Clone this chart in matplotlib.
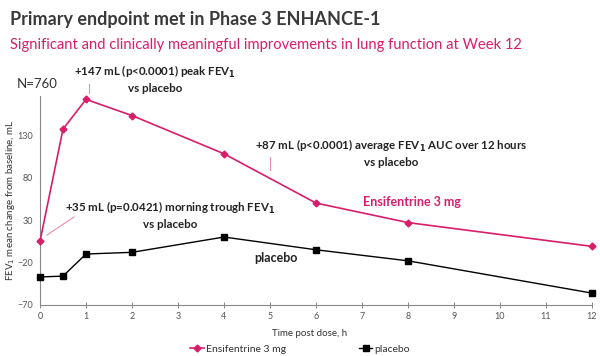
import matplotlib.pyplot as plt
from matplotlib.lines import Line2D

plt.rcParams['font.family'] = ['Lato', 'DejaVu Sans']

# data
hours = [0, 0.5, 1, 2, 4, 6, 8, 12]
ensifentrine = [5, 137, 172, 153, 108, 50, 27, -1]
placebo = [-37, -36, -10, -8, 10, -5, -18, -56]
y_ticks = [-70, -20, 30, 80, 130]
x_ticks = list(range(0, 13))

PINK = '#D81E6A'
LIGHT_PINK = '#E98DB0'
W, H = 600, 356


def fx(px):
    return px / W


def fy(py):
    return 1 - py / H


fig = plt.figure(figsize=(6, 3.56), dpi=100)
ax = fig.add_axes([fx(40), fy(305), fx(592) - fx(40), fy(96) - fy(305)])

ax.plot(hours, ensifentrine, color=PINK, marker='D', markersize=3.5, lw=1.2,
        label='Ensifentrine 3 mg', clip_on=False, zorder=3)
ax.plot(hours, placebo, color='black', marker='s', markersize=4.5, lw=1.0,
        label='placebo', clip_on=False, zorder=3)

ax.set_xlim(0, 12)
ax.set_ylim(-70, 176)
ax.set_xticks(x_ticks)
ax.set_yticks(y_ticks)
ax.tick_params(axis='both', labelsize=6.5, colors='#555555')
ax.tick_params(axis='y', length=0, pad=5)
ax.tick_params(axis='x', direction='inout', length=4, width=0.7, color='#888888', pad=3)
for side in ['top', 'right']:
    ax.spines[side].set_visible(False)
for side in ['left', 'bottom']:
    ax.spines[side].set_color('#888888')
    ax.spines[side].set_linewidth(0.8)

fig.text(fx(310), fy(333), 'Time post dose, h', ha='center', va='center',
         fontsize=7, color='#333333')
fig.text(fx(11), fy(200), 'FEV$_1$ mean change from baseline, mL', ha='center',
         va='center', rotation=90, fontsize=7, color='#333333')

# titles
fig.text(fx(10), fy(19), 'Primary endpoint met in Phase 3 ENHANCE-1', ha='left',
         va='center', fontsize=13, fontweight='bold', color='#3A3A3A')
fig.text(fx(10), fy(45), 'Significant and clinically meaningful improvements in lung function at Week 12',
         ha='left', va='center', fontsize=10.6, color=PINK)

fig.text(fx(37), fy(84), 'N=760', ha='center', va='center', fontsize=9.5, color='#333333')

# annotations
ann = dict(ha='center', va='center', fontsize=8.3, fontweight='bold', color='#222222',
           linespacing=1.35)
fig.text(fx(155), fy(79), '+147 mL (p<0.0001) peak FEV$_\\mathbf{1}$\nvs placebo', **ann)
fig.text(fx(391), fy(153), '+87 mL (p<0.0001) average FEV$_\\mathbf{1}$ AUC over 12 hours\nvs placebo', **ann)
fig.text(fx(170), fy(215), '+35 mL (p=0.0421) morning trough FEV$_\\mathbf{1}$\nvs placebo', **ann)
fig.text(fx(363), fy(202), 'Ensifentrine 3 mg', ha='left', va='center', fontsize=9,
         fontweight='bold', color=PINK)
fig.text(fx(254), fy(258), 'placebo', ha='left', va='center', fontsize=9,
         fontweight='bold', color='#222222')

for (x0, y0), (x1, y1) in [((89, 84), (89, 93)), ((270, 157), (270, 170)),
                           ((74, 217), (47, 235))]:
    fig.add_artist(Line2D([fx(x0), fx(x1)], [fy(y0), fy(y1)], color=LIGHT_PINK,
                          lw=0.8, transform=fig.transFigure))

fig.legend(loc='center', bbox_to_anchor=(fx(300), fy(349)), ncol=2, frameon=False,
           fontsize=7.5, handlelength=1.3, handletextpad=0.2, columnspacing=7,
           labelcolor='#333333')

fig.savefig('out.png', dpi=100, facecolor='white')
